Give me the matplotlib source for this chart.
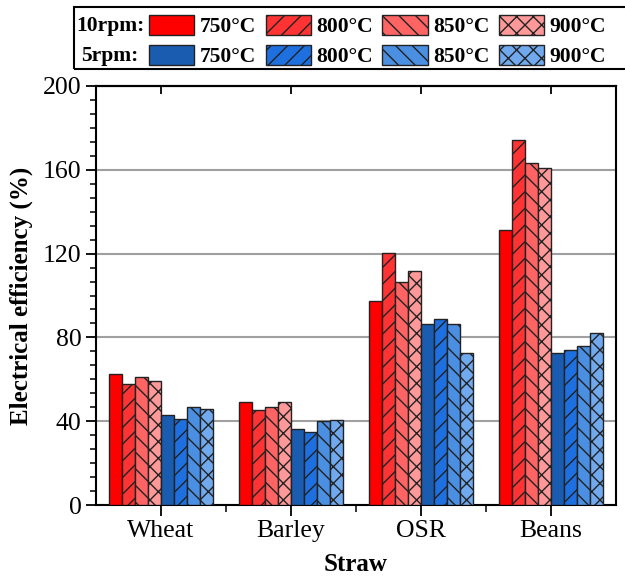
import numpy as np
import matplotlib
matplotlib.use('Agg')
import matplotlib.pyplot as plt
from matplotlib.patches import Rectangle
from matplotlib.ticker import MultipleLocator, AutoMinorLocator, FixedLocator

plt.rcParams['font.family'] = ['Liberation Serif', 'DejaVu Serif']
plt.rcParams['hatch.linewidth'] = 1.0

# data
straws = ['Wheat', 'Barley', 'OSR', 'Beans']
temps = ['750°C', '800°C', '850°C', '900°C']
rpm10 = [
    [62.5, 49.0, 97.4, 131.3],   # 750
    [57.9, 45.5, 120.4, 174.1],  # 800
    [61.1, 46.6, 106.6, 163.1],  # 850
    [59.2, 49.3, 111.9, 161.0],  # 900
]
rpm5 = [
    [42.8, 36.3, 86.2, 72.7],
    [40.9, 34.7, 88.9, 73.8],
    [46.8, 40.0, 86.2, 75.9],
    [46.0, 40.6, 72.7, 82.0],
]

red_cols = ['#FF0000', '#FF3333', '#FF6464', '#FF9999']
blue_cols = ['#1A5CB0', '#1E70E0', '#4A8FE2', '#70A9EE']
hatches = ['', '//', '\\\\', 'xx']

fig = plt.figure(figsize=(6.25, 5.79), dpi=100)
ax = fig.add_axes([96/625, 1-505/579, 520/625, 419/579])

x = np.arange(len(straws))
w = 0.1
red_h, blue_h = [], []
for i in range(4):
    b = ax.bar(x + (i - 3.5)*w, rpm10[i], w, color=red_cols[i], hatch=hatches[i],
               edgecolor='#222222', linewidth=1.0, zorder=3)
    red_h.append(b)
for i in range(4):
    b = ax.bar(x + (i + 0.5)*w, rpm5[i], w, color=blue_cols[i], hatch=hatches[i],
               edgecolor='#222222', linewidth=1.0, zorder=3)
    blue_h.append(b)

ax.set_xlim(-0.5, 3.5)
ax.set_ylim(0, 200)
ax.set_xticks(x)
ax.set_xticklabels(straws, fontsize=18.5)
ax.xaxis.set_minor_locator(FixedLocator(x[:-1] + 0.5))
ax.yaxis.set_major_locator(MultipleLocator(40))
ax.yaxis.set_minor_locator(AutoMinorLocator(6))
ax.tick_params(axis='y', which='major', direction='out', length=7, width=1.3, labelsize=18.5)
ax.tick_params(axis='y', which='minor', direction='out', length=4, width=1.1)
ax.tick_params(axis='x', which='major', direction='out', length=8, width=1.3, labelsize=18.5, pad=3)
ax.tick_params(axis='x', which='minor', direction='out', length=5, width=1.1)
for s in ax.spines.values():
    s.set_linewidth(1.5)

top = ax.secondary_xaxis('top')
top.set_xticks(x)
top.set_xticklabels([])
top.tick_params(direction='in', length=6, width=1.3)
top.spines['top'].set_linewidth(1.5)

ax.yaxis.grid(True, color='#A0A0A0', linewidth=1.5, zorder=0)
ax.set_axisbelow(True)

ax.set_xlabel('Straw', fontsize=18, fontweight='bold', labelpad=8)
ax.set_ylabel('Electrical efficiency (%)', fontsize=18, fontweight='bold', labelpad=7)

# legend: two rows, row titles drawn as text
handles, labels = [], []
for i in range(4):
    handles += [red_h[i], blue_h[i]]
    labels += [temps[i], temps[i]]
fig.legend(handles, labels, ncol=4, loc='upper left',
           bbox_to_anchor=(149/625, 1-15/579), frameon=False,
           borderaxespad=0, borderpad=0,
           prop={'weight': 'bold', 'size': 15.5},
           handlelength=2.1, handleheight=1.07, handletextpad=0.25,
           columnspacing=0.45, labelspacing=0.33)
fig.patches.append(Rectangle((74/625, 1-69/579), 1.0, 62/579, transform=fig.transFigure,
                             fill=False, edgecolor='black', linewidth=1.5))
fig.text(110/625, 1-26/579, '10rpm:', fontsize=15.5, fontweight='bold', ha='center', va='center')
fig.text(110/625, 1-56/579, '5rpm:', fontsize=15.5, fontweight='bold', ha='center', va='center')

fig.savefig('out.png', dpi=100)
